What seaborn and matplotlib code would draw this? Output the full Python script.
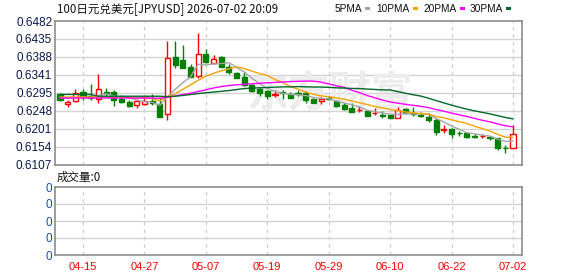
import matplotlib
matplotlib.use("Agg")
import matplotlib.pyplot as plt
from matplotlib.patches import Rectangle
import numpy as np
import pandas as pd
import seaborn as sns

# trading days shown on the chart
dates = pd.bdate_range("2026-04-10", "2026-07-02").strftime("%m-%d").tolist()

opens = [0.6292, 0.6265, 0.6274, 0.6297, 0.6287, 0.6279, 0.6297, 0.6297, 0.6279, 0.6271,
         0.6263, 0.6266, 0.6274, 0.6266, 0.6240, 0.6388, 0.6380, 0.6362, 0.6339, 0.6396,
         0.6373, 0.6388, 0.6362, 0.6347, 0.6336, 0.6315, 0.6305, 0.6300, 0.6289, 0.6297,
         0.6292, 0.6295, 0.6295, 0.6279, 0.6274, 0.6282, 0.6274, 0.6263, 0.6255, 0.6249,
         0.6248, 0.6241, 0.6237, 0.6237, 0.6229, 0.6253, 0.6242, 0.6237, 0.6232, 0.6224,
         0.6198, 0.6201, 0.6190, 0.6190, 0.6181, 0.6181, 0.6180, 0.6175, 0.6151, 0.6151]
highs = [0.6295, 0.6276, 0.6305, 0.6305, 0.6318, 0.6344, 0.6308, 0.6302, 0.6289, 0.6276,
         0.6279, 0.6282, 0.6292, 0.6282, 0.6430, 0.6430, 0.6420, 0.6370, 0.6451, 0.6409,
         0.6393, 0.6391, 0.6370, 0.6349, 0.6349, 0.6318, 0.6308, 0.6302, 0.6302, 0.6302,
         0.6297, 0.6302, 0.6300, 0.6282, 0.6284, 0.6287, 0.6276, 0.6269, 0.6269, 0.6261,
         0.6250, 0.6255, 0.6248, 0.6240, 0.6258, 0.6255, 0.6258, 0.6245, 0.6242, 0.6229,
         0.6209, 0.6203, 0.6195, 0.6193, 0.6188, 0.6188, 0.6182, 0.6177, 0.6159, 0.6209]
lows = [0.6274, 0.6258, 0.6271, 0.6276, 0.6276, 0.6269, 0.6284, 0.6261, 0.6269, 0.6258,
        0.6255, 0.6263, 0.6263, 0.6232, 0.6222, 0.6360, 0.6360, 0.6336, 0.6334, 0.6373,
        0.6370, 0.6362, 0.6344, 0.6334, 0.6313, 0.6297, 0.6287, 0.6279, 0.6284, 0.6279,
        0.6282, 0.6287, 0.6269, 0.6269, 0.6266, 0.6276, 0.6258, 0.6250, 0.6245, 0.6245,
        0.6235, 0.6237, 0.6229, 0.6229, 0.6229, 0.6240, 0.6235, 0.6232, 0.6219, 0.6185,
        0.6190, 0.6177, 0.6182, 0.6177, 0.6175, 0.6177, 0.6172, 0.6146, 0.6138, 0.6151]
closes = [0.6276, 0.6271, 0.6295, 0.6284, 0.6282, 0.6305, 0.6295, 0.6276, 0.6271, 0.6261,
          0.6274, 0.6274, 0.6269, 0.6232, 0.6386, 0.6367, 0.6360, 0.6336, 0.6396, 0.6375,
          0.6383, 0.6362, 0.6349, 0.6334, 0.6315, 0.6300, 0.6295, 0.6287, 0.6292, 0.6295,
          0.6282, 0.6292, 0.6276, 0.6269, 0.6279, 0.6279, 0.6261, 0.6253, 0.6245, 0.6250,
          0.6235, 0.6242, 0.6235, 0.6229, 0.6250, 0.6242, 0.6240, 0.6235, 0.6224, 0.6193,
          0.6199, 0.6188, 0.6189, 0.6180, 0.6180, 0.6182, 0.6175, 0.6149, 0.6150, 0.6188]

ma5 = [0.62815, 0.62802, 0.62815, 0.62828, 0.62815, 0.62872, 0.62919, 0.62862, 0.62836, 0.62815,
       0.62752, 0.62711, 0.62695, 0.62617, 0.62847, 0.63034, 0.63206, 0.63362, 0.63690, 0.63669,
       0.63700, 0.63705, 0.63731, 0.63606, 0.63487, 0.63320, 0.63185, 0.63060, 0.62976, 0.62935,
       0.62898, 0.62893, 0.62872, 0.62825, 0.62794, 0.62789, 0.62726, 0.62679, 0.62633, 0.62575,
       0.62487, 0.62450, 0.62414, 0.62383, 0.62383, 0.62398, 0.62393, 0.62393, 0.62383, 0.62268,
       0.62182, 0.62078, 0.61987, 0.61898, 0.61872, 0.61838, 0.61812, 0.61732, 0.61672, 0.61687]
ma10 = [0.62833, 0.62833, 0.62833, 0.62833, 0.62833, 0.62833, 0.62833, 0.62833, 0.62833, 0.62815,
        0.62812, 0.62815, 0.62789, 0.62737, 0.62841, 0.62919, 0.63036, 0.63153, 0.63271, 0.63375,
        0.63453, 0.63518, 0.63570, 0.63622, 0.63578, 0.63510, 0.63445, 0.63396, 0.63291, 0.63211,
        0.63109, 0.63039, 0.62966, 0.62901, 0.62864, 0.62843, 0.62810, 0.62776, 0.62729, 0.62685,
        0.62638, 0.62588, 0.62547, 0.62508, 0.62479, 0.62442, 0.62422, 0.62403, 0.62383, 0.62325,
        0.62289, 0.62234, 0.62190, 0.62140, 0.62070, 0.62010, 0.61945, 0.61859, 0.61784, 0.61778]
ma20 = [0.62807, 0.62807, 0.62807, 0.62807, 0.62807, 0.62807, 0.62807, 0.62807, 0.62807, 0.62807,
        0.62807, 0.62807, 0.62807, 0.62800, 0.62828, 0.62862, 0.62898, 0.62932, 0.62976, 0.63023,
        0.63070, 0.63106, 0.63133, 0.63153, 0.63166, 0.63179, 0.63192, 0.63205, 0.63216, 0.63226,
        0.63237, 0.63244, 0.63250, 0.63250, 0.63221, 0.63177, 0.63127, 0.63086, 0.63010, 0.62948,
        0.62873, 0.62813, 0.62756, 0.62704, 0.62672, 0.62643, 0.62616, 0.62590, 0.62556, 0.62505,
        0.62463, 0.62411, 0.62368, 0.62324, 0.62274, 0.62226, 0.62183, 0.62131, 0.62083, 0.62052]
ma30 = [0.62901, 0.62901, 0.62901, 0.62901, 0.62901, 0.62854, 0.62854, 0.62854, 0.62854, 0.62854,
        0.62854, 0.62854, 0.62854, 0.62854, 0.62841, 0.62854, 0.62875, 0.62898, 0.62924, 0.62945,
        0.62963, 0.62982, 0.63002, 0.63028, 0.63054, 0.63067, 0.63075, 0.63083, 0.63091, 0.63098,
        0.63099, 0.63106, 0.63100, 0.63095, 0.63094, 0.63086, 0.63074, 0.63067, 0.63058, 0.63054,
        0.63041, 0.63031, 0.63020, 0.63019, 0.62974, 0.62932, 0.62892, 0.62858, 0.62801, 0.62740,
        0.62679, 0.62621, 0.62567, 0.62516, 0.62471, 0.62432, 0.62392, 0.62346, 0.62299, 0.62263]

price_ticks = ["0.6482", "0.6435", "0.6388", "0.6341", "0.6295", "0.6248", "0.6201", "0.6154", "0.6107"]
date_ticks = ["04-15", "04-27", "05-07", "05-19", "05-29", "06-10", "06-22", "07-02"]
ma_names = ["5PMA", "10PMA", "20PMA", "30PMA"]
ma_colors = ["#a6a6a6", "#f5a300", "#ff00ff", "#00692a"]

title = "100日元兑美元[JPYUSD] 2026-07-02 20:09"
volume_label = "成交量:0"
watermark = "东方财富"

sns.set_theme(style="white")
plt.rcParams["font.family"] = ["Liberation Sans", "Noto Sans CJK SC", "DejaVu Sans"]
cjk = ["Noto Sans CJK SC", "DejaVu Sans"]

W, H = 578, 276
fig = plt.figure(figsize=(W / 100, H / 100), dpi=100)
fig.patch.set_facecolor("white")


def box(left, top, right, bottom):
    return [left / W, 1 - bottom / H, (right - left) / W, (bottom - top) / H]


ax = fig.add_axes(box(55, 21, 522, 164.5))
axv = fig.add_axes(box(55, 187, 522, 255))

n = len(closes)
idx = np.arange(n)
xlim = (-0.65, n - 1 + 1.17)
tick_pos = [dates.index(d) for d in date_ticks]

ymax = float(price_ticks[0])
ymin = float(price_ticks[-1])
yt = np.linspace(ymax, ymin, len(price_ticks))

for a in (ax, axv):
    a.set_xlim(*xlim)
    a.set_facecolor("white")
    for s in a.spines.values():
        s.set_color("#8c8c8c")
        s.set_linewidth(1.2)
    for xp in tick_pos:
        a.axvline(xp, color="#cfcfcf", lw=0.9, ls=(0, (3, 3)), zorder=0)
    a.tick_params(axis="both", length=0, pad=2)

# price panel
ax.set_ylim(ymin, ymax)
ax.set_yticks(yt)
ax.set_yticklabels(price_ticks, fontsize=8.5, color="#0b1a4d")
for y in yt[1:-1]:
    ax.axhline(y, color="#d2d2d2", lw=1, zorder=0)
ax.set_xticks([])

ax.text((330 - 55) / 467, (164.5 - 93) / 143.5, watermark, transform=ax.transAxes,
        ha="center", va="center", fontsize=30, fontweight="bold", color="#ececec",
        family=cjk, zorder=0.5, style="italic")

up_color = "#ff0000"
down_color = "#008000"
body_w = 0.66
for i in idx:
    o, h, l, c = opens[i], highs[i], lows[i], closes[i]
    up = c >= o
    col = up_color if up else down_color
    ax.vlines(i, l, h, color=col, lw=1, zorder=3)
    lo, hi = min(o, c), max(o, c)
    hgt = max(hi - lo, 0.00004)
    ax.bar(i, hgt, bottom=lo, width=body_w, color="white" if up else col,
           edgecolor=col, linewidth=1, zorder=4)

ma_df = pd.DataFrame({
    "idx": np.tile(idx, 4),
    "value": np.concatenate([ma5, ma10, ma20, ma30]),
    "ma": np.repeat(ma_names, n),
})
sns.lineplot(data=ma_df, x="idx", y="value", hue="ma", hue_order=ma_names,
             palette=ma_colors, legend=False, linewidth=1, ax=ax, zorder=5)
ax.set_xlabel("")
ax.set_ylabel("")

# volume panel (all zero)
axv.set_ylim(0, 4)
axv.set_yticks([0, 1, 2, 3, 4])
axv.set_yticklabels(["0"] * 5, fontsize=8.5, color="#1f4fa8")
for y in [1, 2, 3]:
    axv.axhline(y, color="#d2d2d2", lw=1, zorder=0)
axv.set_xticks(tick_pos)
axv.set_xticklabels(date_ticks, fontsize=8, color="#ff0000")
axv.tick_params(axis="x", pad=5)

# header texts
fig.text(57 / W, 1 - 8.5 / H, title, fontsize=8.3, family=cjk, color="#111111", va="center")
fig.text(57 / W, 1 - 177.5 / H, volume_label, fontsize=8.3, family=cjk, color="#111111", va="center")

marker_x = [365, 413, 460, 506]
for name, col, mx in zip(ma_names, ma_colors, marker_x):
    fig.text((mx - 3) / W, 1 - 8.5 / H, name, fontsize=7.3, color="#111111",
             va="center", ha="right")
    fig.add_artist(Rectangle((mx / W, 1 - 10 / H), 5 / W, 3 / H,
                             transform=fig.transFigure, color=col, lw=0))

fig.savefig("out.png", dpi=100, facecolor="white")
